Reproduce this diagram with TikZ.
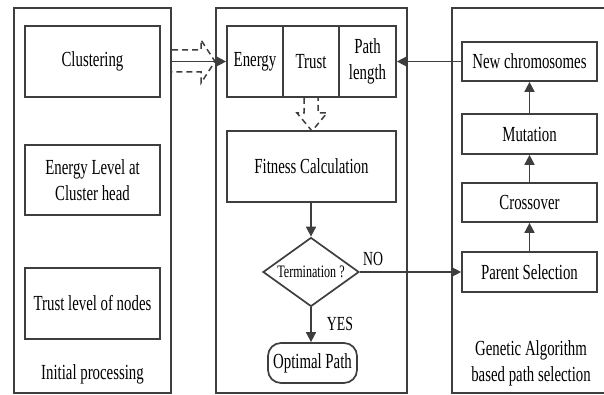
\documentclass[tikz,border=0pt]{standalone}
\usepackage{fontspec}
\setmainfont[FakeStretch=0.69]{Liberation Serif}
\usetikzlibrary{arrows.meta,shapes.geometric}
\definecolor{linegray}{RGB}{62,62,62}
\begin{document}
\begin{tikzpicture}[x=1pt,y=-1pt,
    panel/.style={draw=linegray,line width=1.3pt,minimum width=#1,minimum height=385,inner sep=0},
    box/.style={draw=linegray,line width=1.7pt,inner sep=0,align=center,font=\fontsize{21.5}{26}\selectfont},
    label/.style={inner sep=0,align=center,font=\fontsize{21.5}{26}\selectfont},
    arrow/.style={draw=linegray,line width=1.6pt,-{Triangle[length=10pt,width=10pt]}},
    hollow/.style={draw=linegray,line width=1.5pt,dashed,dash pattern=on 6pt off 4pt}]
  \clip (0,0) rectangle (604,395);
  \node[panel=157] (init) at (92.5,200.5) {};
  \node[panel=191] (ga) at (311.5,200.5) {};
  \node[panel=168] (sel) at (536,200.5) {};

  \node[box,minimum width=135,minimum height=71] (clust) at (92.5,61.5) {Clustering};
  \node[box,minimum width=135,minimum height=70] (enlevel) at (92.5,180) {Energy Level at\\Cluster head};
  \node[box,minimum width=135,minimum height=71] (trust) at (92.5,303.5) {Trust level of nodes};
  \node[label] (initlab) at (92.5,374) {Initial processing};

  \node[box,minimum width=56,minimum height=71] (energy) at (255,61.5) {Energy};
  \node[box,minimum width=56,minimum height=71] (trustc) at (311,61.5) {Trust};
  \node[box,minimum width=57,minimum height=71] (plength) at (367.5,61.5) {Path\\length};
  \node[box,minimum width=169,minimum height=71] (fitness) at (311.5,166.5) {Fitness Calculation};
  \node[box,diamond,aspect=1.39,minimum width=96,minimum height=69,font=\fontsize{17.5}{20}\selectfont] (term) at (311,272) {Termination ?};
  \node[box,minimum width=89,minimum height=40,rounded corners=13pt] (optimal) at (312.5,363) {Optimal Path};
  \node[label,font=\fontsize{20}{22}\selectfont] (yes) at (340,324) {YES};
  \node[label,font=\fontsize{20}{22}\selectfont] (no) at (373,259) {NO};

  \node[box,minimum width=135,minimum height=39] (newchr) at (529.5,61.5) {New chromosomes};
  \node[box,minimum width=135,minimum height=40] (mutation) at (529.5,134) {Mutation};
  \node[box,minimum width=135,minimum height=39] (crossover) at (529.5,202.5) {Crossover};
  \node[box,minimum width=135,minimum height=40] (parent) at (529.5,272) {Parent Selection};
  \node[label] (galab) at (531,363) {Genetic Algorithm\\based path selection};

  \draw[hollow] (172,50) -- (201,50) -- (201,40) -- (215,61.5) -- (201,83) -- (201,72) -- (172,72);
  \draw[hollow] (304,98) -- (304,113) -- (297,113) -- (312,131) -- (327,113) -- (318,113) -- (318,98);
  \draw[arrow] (clust -| init.east) -- (energy.west);
  \draw[arrow] (newchr.west) -- (plength.east);
  \draw[arrow] (fitness.south -| term.north) -- (term.north);
  \draw[arrow] (term.south) -- (term.south |- optimal.north);
  \draw[arrow] (term.east) -- (parent.west);
  \draw[arrow] (parent) -- (crossover);
  \draw[arrow] (crossover) -- (mutation);
  \draw[arrow] (mutation) -- (newchr);
\end{tikzpicture}
\end{document}
